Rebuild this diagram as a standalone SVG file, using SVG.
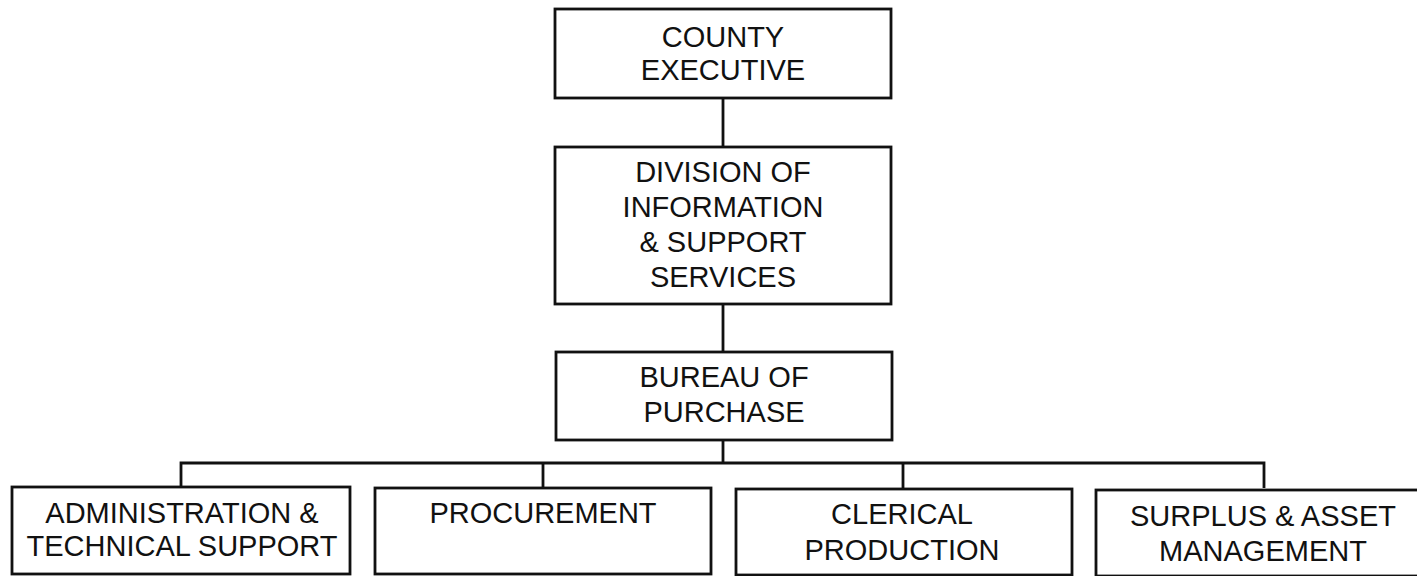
<svg xmlns="http://www.w3.org/2000/svg" width="1417" height="576" viewBox="0 0 1417 576">
<style>
.box{fill:#fff;stroke:#111;stroke-width:2.8}
.conn{fill:none;stroke:#111;stroke-width:2.8}
text{font-family:"Liberation Sans",Arial,Helvetica,sans-serif;font-size:29px;fill:#111;text-anchor:middle}
</style>
<rect width="1417" height="576" fill="#fff"/>
<g id="connectors">
<line class="conn" x1="723" y1="98" x2="723" y2="147"/>
<line class="conn" x1="723" y1="304" x2="723" y2="352"/>
<line class="conn" x1="723" y1="440" x2="723" y2="463"/>
<polyline class="conn" points="181,488 181,463 1264,463 1264,488"/>
<line class="conn" x1="543" y1="463" x2="543" y2="488"/>
<line class="conn" x1="903" y1="463" x2="903" y2="488"/>
</g>
<g id="county-executive">
<rect class="box" x="555" y="9" width="336" height="89"/>
<text x="723" y="47">COUNTY</text>
<text x="723" y="80">EXECUTIVE</text>
</g>
<g id="division">
<rect class="box" x="555" y="147" width="336" height="157"/>
<text x="723" y="182">DIVISION OF</text>
<text x="723" y="217">INFORMATION</text>
<text x="723" y="252">&amp; SUPPORT</text>
<text x="723" y="287">SERVICES</text>
</g>
<g id="bureau">
<rect class="box" x="556" y="352" width="336" height="88"/>
<text x="724" y="387">BUREAU OF</text>
<text x="724" y="422">PURCHASE</text>
</g>
<g id="admin">
<rect class="box" x="12" y="487" width="338" height="87"/>
<text x="182" y="523">ADMINISTRATION &amp;</text>
<text x="182" y="556">TECHNICAL SUPPORT</text>
</g>
<g id="procurement">
<rect class="box" x="375" y="488" width="336" height="86"/>
<text x="543" y="523">PROCUREMENT</text>
</g>
<g id="clerical">
<rect class="box" x="736" y="489" width="336" height="86"/>
<text x="902" y="524">CLERICAL</text>
<text x="902" y="560">PRODUCTION</text>
</g>
<g id="surplus">
<rect class="box" x="1096" y="490" width="336" height="86"/>
<text x="1263" y="526">SURPLUS &amp; ASSET</text>
<text x="1263" y="561">MANAGEMENT</text>
</g>
</svg>
